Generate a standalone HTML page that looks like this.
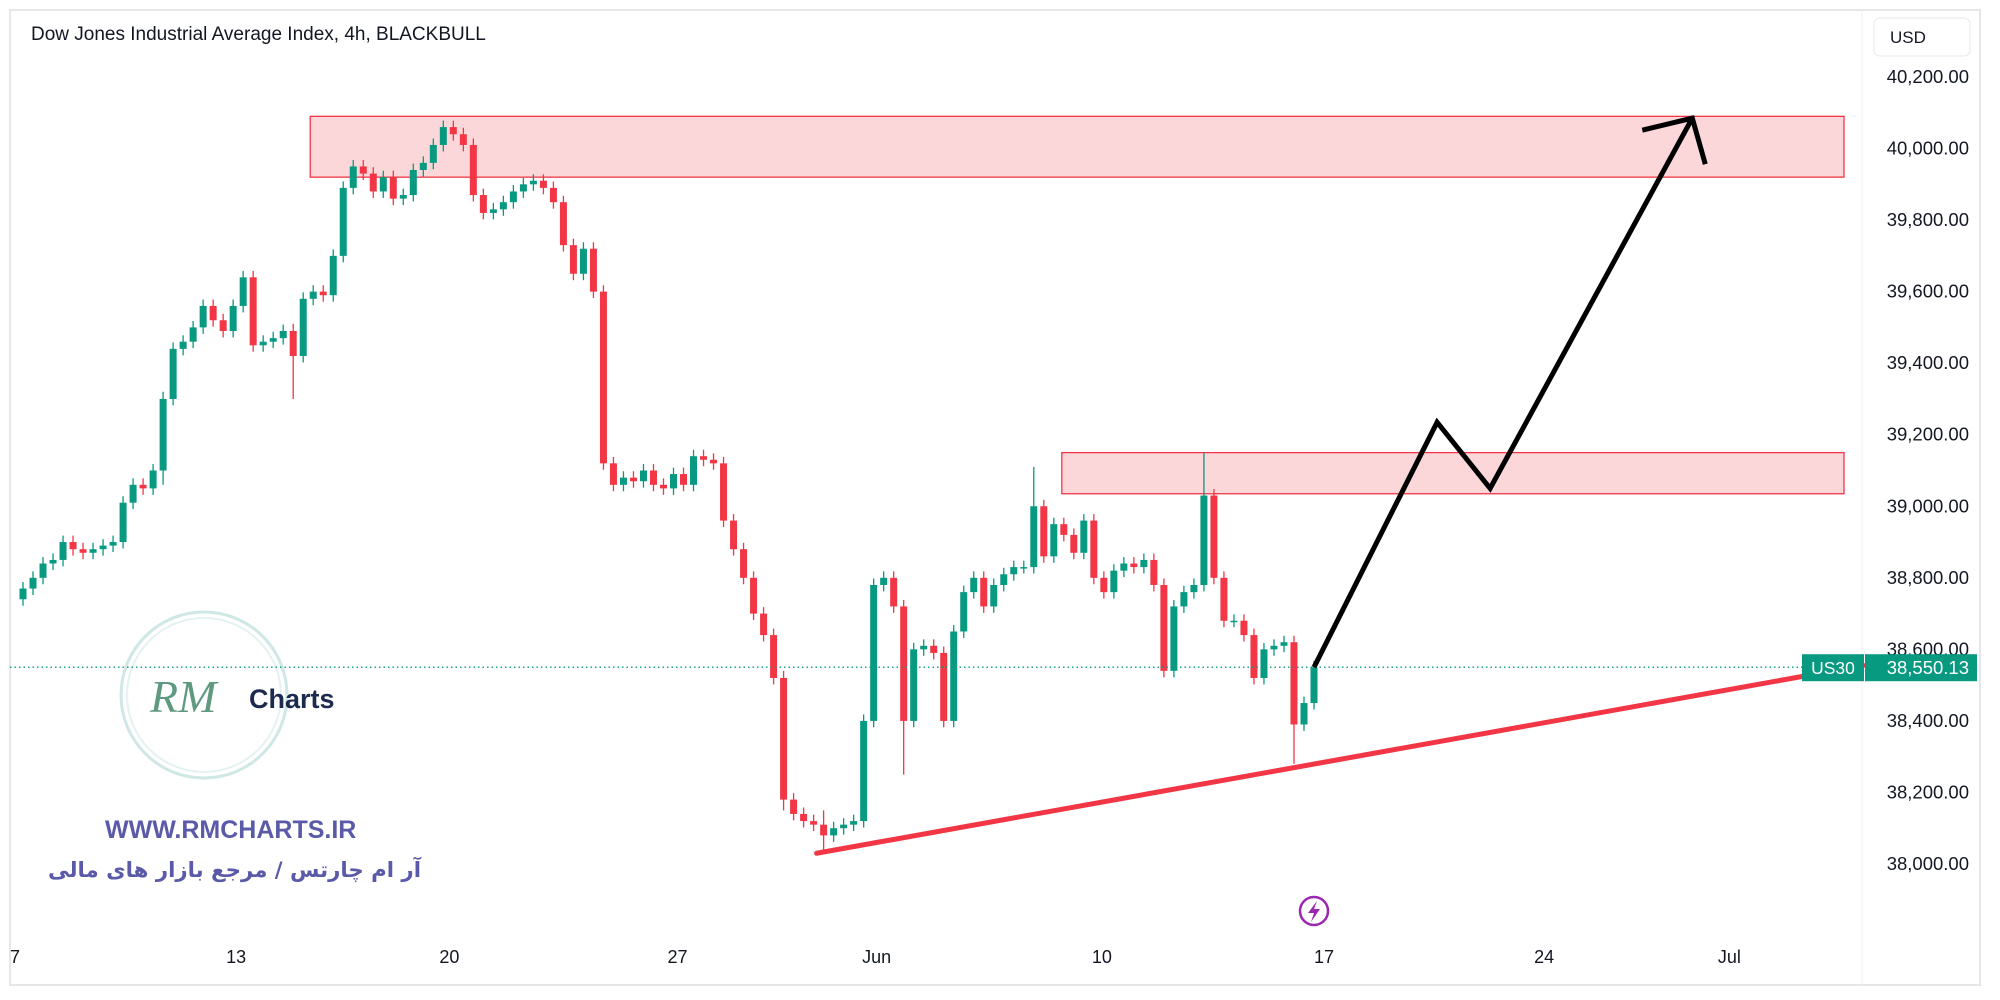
<!DOCTYPE html>
<html><head><meta charset="utf-8">
<style>
html,body{margin:0;padding:0;background:#fff;}
svg{display:block;font-family:"Liberation Sans","Noto Sans CJK SC",sans-serif;}
</style></head>
<body>
<svg id="chart" width="2000" height="1000" viewBox="0 0 2000 1000" xmlns="http://www.w3.org/2000/svg">
  <rect x="0" y="0" width="2000" height="1000" fill="#ffffff"/>
  <rect x="10" y="10" width="1970" height="975" fill="none" stroke="#e6e6e6" stroke-width="2"/>
  <line x1="1862" y1="10" x2="1862" y2="985" stroke="#f0f0f0" stroke-width="1"/>
  <text x="31" y="40" font-size="19" fill="#131722">Dow Jones Industrial Average Index, 4h, BLACKBULL</text>
  <rect x="1874" y="18" width="96" height="38" rx="6" fill="#fff" stroke="#e8e8e8"/>
  <text x="1890" y="43" font-size="17" fill="#131722">USD</text>

  <g>
    <circle cx="204" cy="695" r="83" fill="none" stroke="#cfe8e6" stroke-width="3"/>
    <circle cx="204" cy="695" r="77" fill="none" stroke="#e4f2f1" stroke-width="2"/>
    <text x="150" y="712" font-size="46" font-style="italic" fill="#5f9a80" font-family="Liberation Serif,serif">RM</text>
    <text x="249" y="708" font-size="27" font-weight="bold" fill="#1b2a4e">Charts</text>
  </g>
  <text x="105" y="838" font-size="25" font-weight="bold" fill="#5a5aa8">WWW.RMCHARTS.IR</text>
  <text x="421" y="877" font-size="21.3" font-weight="bold" fill="#5a5aa8" text-anchor="start" direction="rtl" font-family="DejaVu Sans,'Noto Sans CJK SC',sans-serif">آر ام چارتس / مرجع بازار های مالی</text>

  <g id="zones"></g>
  <g id="candles"></g>
  <g id="overlays"></g>
  <g id="yaxis"></g>
  <g id="xaxis"></g>

  <g>
    <circle cx="1314" cy="911" r="14" fill="none" stroke="#9c27b0" stroke-width="2.5"/>
    <path d="M1317 901 L1308 913 L1314 913 L1311 922 L1320 909 L1314 909 Z" fill="#9c27b0"/>
  </g>
</svg>
<script>
const closes = [38770,38800,38840,38850,38900,38880,38870,38880,38890,38900,
39010,39060,39050,39100,39300,39440,39460,39500,39560,39520,
39490,39560,39640,39450,39460,39470,39490,39420,39580,39600,
39590,39700,39890,39950,39930,39880,39920,39860,39870,39940,
39960,40010,40060,40040,40010,39870,39820,39830,39850,39880,
39900,39910,39890,39850,39730,39650,39720,39600,39120,39060,
39080,39070,39100,39060,39050,39090,39060,39140,39130,39120,
38960,38880,38800,38700,38640,38520,38180,38140,38120,38110,
38080,38100,38110,38120,38400,38780,38800,38720,38400,38600,
38610,38590,38400,38650,38760,38800,38720,38780,38810,38830,
38830,39000,38860,38950,38920,38870,38960,38800,38760,38820,
38840,38830,38850,38780,38540,38720,38760,38780,39030,38800,
38680,38680,38640,38520,38600,38610,38620,38390,38450,38550];
const firstOpen = 38740;
const spikeIdx  = [101,118,42,27,88,127,80,76,14];
const spikeHigh = [39110,39150,40075,39510,38420,38440,38150,38540,39320];
const spikeLow  = [38950,38780,40030,39300,38250,38280,38040,38150,39060];
const yTicks = [40200,40000,39800,39600,39400,39200,39000,38800,38600,38400,38200,38000];
const xTickLabels = ["7","13","20","27","Jun","10","17","24","Jul"];
const xTickBars = [-0.8,21.3,42.6,65.4,85.3,107.8,130,152,170.5];
const zoneTop = [40090,39150];
const zoneBottom = [39920,39035];
const zoneStartBar = [28.7,103.8];
const trendPrices = [38030,38555];
const trendBars = [79.3,183.9];
const arrowPrices = [38550,39235,39050,40085];
const arrowBars = [129,141.3,146.6,166.8];
const lastPrice = 38550.13;

const NS="http://www.w3.org/2000/svg";
const yOf = p => 864 - (p-38000)*0.35773;
const xOf = i => 23 + i*(1314-23)/129;
function mk(tag, attrs, parent){const e=document.createElementNS(NS,tag);for(const k in attrs)e.setAttribute(k,attrs[k]);parent.appendChild(e);return e;}

const zg=document.getElementById('zones');
for(let z=0;z<zoneTop.length;z++){
  const r=mk('rect',{x:xOf(zoneStartBar[z]),y:yOf(zoneTop[z]),width:1844-xOf(zoneStartBar[z]),height:yOf(zoneBottom[z])-yOf(zoneTop[z]),fill:'rgba(242,54,69,0.2)',stroke:'#f23645','stroke-width':1.3},zg);
  
  
}

const cg=document.getElementById('candles');
let prev=firstOpen;
for(let i=0;i<closes.length;i++){
  const o=prev,c=closes[i];prev=c;
  let hi=Math.max(o,c)+18, lo=Math.min(o,c)-18;
  const k=spikeIdx.indexOf(i);
  if(k>=0){hi=Math.max(hi,spikeHigh[k]);lo=Math.min(lo,spikeLow[k]);}
  const col=c>=o?'#089981':'#f23645';
  const x=xOf(i);
  const g=mk('g',{},cg);
  
  
  mk('line',{x1:x,x2:x,y1:yOf(hi),y2:yOf(lo),stroke:col,'stroke-width':1.3},g);
  const yt=yOf(Math.max(o,c)),yb=yOf(Math.min(o,c));
  mk('rect',{x:x-3.5,y:yt,width:7,height:Math.max(1.5,yb-yt),fill:col},g);
}

const og=document.getElementById('overlays');
const dl=mk('line',{x1:10,x2:1862,y1:yOf(lastPrice),y2:yOf(lastPrice),stroke:'#089981','stroke-width':1.3,'stroke-dasharray':'1.5 3'},og);


const tl=mk('line',{x1:xOf(trendBars[0]),y1:yOf(trendPrices[0]),x2:xOf(trendBars[1]),y2:yOf(trendPrices[1]),stroke:'#f23645','stroke-width':5,'stroke-linecap':'round'},og);


let pts=arrowBars.map((b,i)=>xOf(b)+','+yOf(arrowPrices[i])).join(' ');
const ap=mk('polyline',{points:pts,fill:'none',stroke:'#000','stroke-width':5,'stroke-linejoin':'miter'},og);


const tipX=xOf(arrowBars[3]),tipY=yOf(arrowPrices[3]);
const ah=mk('polyline',{points:(tipX-50)+','+(tipY+12)+' '+tipX+','+tipY+' '+(tipX+13)+','+(tipY+46),fill:'none',stroke:'#000','stroke-width':5},og);



const yg=document.getElementById('yaxis');
yTicks.forEach(p=>{
  const t=mk('text',{x:1969,y:yOf(p)+6,'font-size':18.5,fill:'#131722','text-anchor':'end'},yg);
  t.textContent=p.toLocaleString('en-US',{minimumFractionDigits:2});
  
  
});
const ly=yOf(lastPrice);
const b1=mk('rect',{x:1802,y:ly-13,width:62,height:27,fill:'#089981'},yg);


const t1=mk('text',{x:1833,y:ly+7,'font-size':17.5,fill:'#fff','text-anchor':'middle'},yg);
t1.textContent='US30';


const b2=mk('rect',{x:1865,y:ly-13,width:112,height:27,fill:'#089981'},yg);


const t2=mk('text',{x:1969,y:ly+7,'font-size':18.5,fill:'#fff','text-anchor':'end'},yg);
t2.textContent=lastPrice.toLocaleString('en-US',{minimumFractionDigits:2});



const xg=document.getElementById('xaxis');
xTickLabels.forEach((l,i)=>{
  const t=mk('text',{x:xOf(xTickBars[i]),y:963,'font-size':18,fill:'#131722','text-anchor':'middle'},xg);
  t.textContent=l;
  
  
});
</script>
</body></html>
